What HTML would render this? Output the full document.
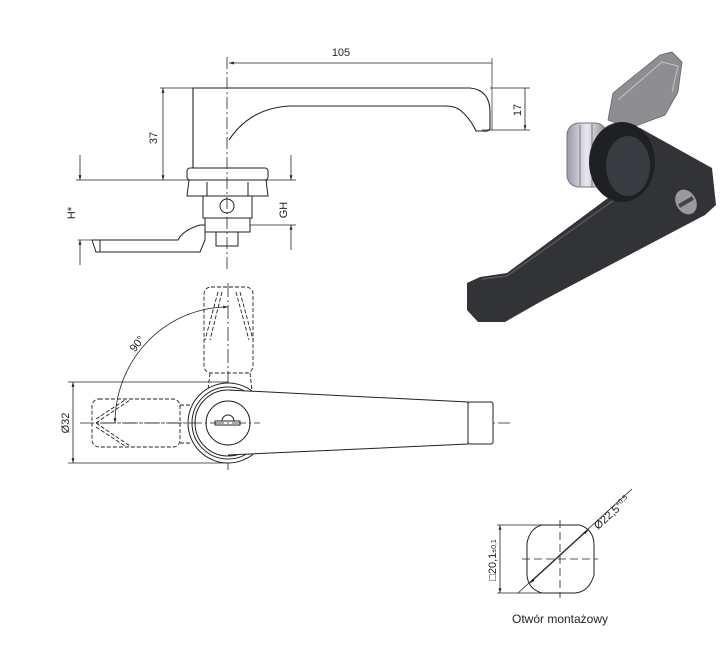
<!DOCTYPE html>
<html><head><style>
html,body{margin:0;padding:0;background:#fff;}
svg{display:block;font-family:"Liberation Sans",sans-serif;}
</style></head><body>
<svg width="721" height="662" viewBox="0 0 721 662" xmlns="http://www.w3.org/2000/svg">
<defs>
<marker id="a" viewBox="0 0 10 10" refX="10" refY="5" markerWidth="8" markerHeight="6" orient="auto-start-reverse"><path d="M0,2 L10,5 L0,8 Z" fill="#222"/></marker>
<linearGradient id="sil" x1="0" x2="1"><stop offset="0" stop-color="#9a9aa8"/><stop offset="0.5" stop-color="#e8e8f0"/><stop offset="1" stop-color="#8a8a96"/></linearGradient>
</defs>
<g stroke="#222" fill="none" stroke-width="1">
<line x1="227" y1="57" x2="227" y2="272" stroke-dasharray="12,3,2,3" stroke-width="0.8"/>
<line x1="229" y1="63" x2="492" y2="63" marker-start="url(#a)" stroke-width="0.8"/>
<line x1="492" y1="58" x2="492" y2="130" stroke-width="0.7"/>
<path d="M193,168 L193,88 L470,88 Q490,90 490,112 L490,128 Q490,132 482,131 L476,131 Q470,118 460,110 Q455,106 445,106 L290,106 Q250,108 229,140" stroke-width="1.1"/>
<path d="M193,168 L262,168" />
<line x1="490" y1="88" x2="530" y2="88" stroke-width="0.7"/>
<line x1="482" y1="130" x2="530" y2="130" stroke-width="0.7"/>
<line x1="525" y1="88" x2="525" y2="130" marker-end="url(#a)" stroke-width="0.8"/>
<line x1="160" y1="88" x2="193" y2="88" stroke-width="0.7"/>
<line x1="163" y1="88" x2="163" y2="180" marker-start="url(#a)" marker-end="url(#a)" stroke-width="0.8"/>
<line x1="76" y1="180" x2="296" y2="180" stroke-width="0.7"/>
<rect x="187" y="168" width="81" height="12" rx="3"/>
<path d="M189,180 L266,180 L268,196 L187,196 Z"/>
<line x1="207" y1="182" x2="207" y2="196"/><line x1="248" y1="182" x2="248" y2="196"/>
<rect x="203" y="196" width="49" height="22"/>
<circle cx="227" cy="206" r="7"/>
<rect x="205" y="218" width="45" height="14"/>
<rect x="216" y="232" width="22" height="14"/>
<path d="M92,240 L178,240 Q183,230 200,225 L205,225 L205,240 L200,252 L96,252 Z"/>
<line x1="100" y1="240" x2="100" y2="252"/>
<line x1="80" y1="155" x2="80" y2="180" marker-end="url(#a)" stroke-width="0.8"/>
<line x1="80" y1="265" x2="80" y2="240" marker-end="url(#a)" stroke-width="0.8"/>
<line x1="78" y1="240" x2="92" y2="240" stroke-width="0.7"/>
<line x1="291" y1="155" x2="291" y2="180" marker-end="url(#a)" stroke-width="0.8"/>
<line x1="291" y1="250" x2="291" y2="225" marker-end="url(#a)" stroke-width="0.8"/>
<line x1="250" y1="225" x2="296" y2="225" stroke-width="0.7"/>
<line x1="80" y1="423" x2="510" y2="423" stroke-dasharray="14,3,2,3" stroke-width="0.8"/>
<line x1="228" y1="283" x2="228" y2="470" stroke-dasharray="14,3,2,3" stroke-width="0.8"/>
<g stroke-dasharray="4,2" stroke-width="0.9">
<rect x="204" y="287" width="49" height="86" rx="7"/>
<rect x="92" y="399" width="88" height="48" rx="7"/>
<path d="M218,292 L205,340 M240,292 L253,340 M222,292 L210,340 M236,292 L249,340"/>
<path d="M96,423 L130,400 M96,423 L130,446 M96,419 L125,400 M96,427 L125,446"/>
<path d="M210,373 L208,390 M250,373 L252,390 M180,405 L190,405 M180,443 L190,443"/>
</g>
<circle cx="228" cy="423" r="40" fill="#fff"/>
<circle cx="228" cy="423" r="36"/>
<circle cx="228" cy="423" r="33"/>
<path d="M228,390 L468,402 L468,444 L228,455" fill="#fff"/>
<rect x="468" y="402" width="25" height="42" rx="2" fill="#fff"/>
<circle cx="228" cy="423" r="22" fill="#fff"/>
<rect x="215" y="421" width="25" height="4"/>
<path d="M222,421 A6,6 0 0 1 234,421"/>
<line x1="100" y1="423" x2="260" y2="423" stroke-dasharray="14,3,2,3" stroke-width="0.8"/>
<line x1="68" y1="382" x2="228" y2="382" stroke-width="0.7"/>
<line x1="68" y1="463" x2="228" y2="463" stroke-width="0.7"/>
<line x1="73" y1="382" x2="73" y2="463" marker-start="url(#a)" marker-end="url(#a)" stroke-width="0.8"/>
<path d="M115,423 A113,116 0 0 1 228,307" marker-start="url(#a)" marker-end="url(#a)" stroke-width="0.8"/>
<path d="M542,525 L580,525 Q594,530 594,545 L594,575 Q589,592 575,593 L542,593 Q528,589 527,575 L527,543 Q530,528 542,525 Z"/>
<line x1="560" y1="520" x2="560" y2="598" stroke-dasharray="8,4" stroke-width="0.8"/>
<line x1="522" y1="559" x2="598" y2="559" stroke-dasharray="8,4" stroke-width="0.8"/>
<line x1="497" y1="525" x2="542" y2="525" stroke-width="0.7"/>
<line x1="497" y1="593" x2="542" y2="593" stroke-width="0.7"/>
<line x1="500" y1="525" x2="500" y2="593" marker-start="url(#a)" marker-end="url(#a)" stroke-width="0.8"/>
<line x1="518" y1="593" x2="632" y2="489" stroke-width="0.8"/>
<line x1="530" y1="583" x2="588" y2="530" marker-start="url(#a)" marker-end="url(#a)" stroke-width="0.8"/>
</g>
<g fill="#222" font-size="11">
<text x="341" y="56" text-anchor="middle">105</text>
<text transform="translate(157,138) rotate(-90)" text-anchor="middle">37</text>
<text transform="translate(521,110) rotate(-90)" text-anchor="middle">17</text>
<text transform="translate(75,213) rotate(-90)" text-anchor="middle">H*</text>
<text transform="translate(287,210) rotate(-90)" text-anchor="middle">GH</text>
<text transform="translate(69,423) rotate(-90)" text-anchor="middle">Ø32</text>
<text transform="translate(140,346) rotate(-52)" text-anchor="middle">90°</text>
<text transform="translate(496,560) rotate(-90)" text-anchor="middle">□20,1<tspan font-size="7">±0,1</tspan></text>
<text transform="translate(598,530) rotate(-42)">Ø22,5<tspan font-size="7" dy="-4">+0,5</tspan></text>
<text x="560" y="623" text-anchor="middle" font-size="12">Otwór montażowy</text>
</g>
<!-- 3D render -->
<path d="M613,93 L660,55 L672,52 L682,62 L678,92 L665,115 L630,128 L608,120 Z" fill="#8e8e92" stroke="#666" stroke-width="0.8"/>
<path d="M618,100 L662,62 L678,66 L672,92" fill="none" stroke="#c4c4c8"/>
<rect x="567" y="123" width="40" height="64" rx="12" fill="url(#sil)" stroke="#777"/>
<line x1="580" y1="125" x2="580" y2="186" stroke="#777"/><line x1="592" y1="124" x2="592" y2="187" stroke="#777"/>
<path d="M640,128 L712,168 L716,205 L705,215 L540,302 L505,322 L478,322 L467,310 L467,283 L480,277 L507,273 L612,195 Z" fill="#323337"/>
<path d="M482,279 L507,276 L614,200" fill="none" stroke="#55565a" stroke-width="1.5"/>
<ellipse cx="622" cy="162" rx="33" ry="40" fill="#1f2022"/>
<ellipse cx="628" cy="166" rx="22" ry="30" fill="#3a3b40"/>
<ellipse cx="686" cy="202" rx="10" ry="13" fill="#9a9a9e" transform="rotate(-30 686 202)"/>
<rect x="678" y="200" width="16" height="4" fill="#444" transform="rotate(-30 686 202)"/>
</svg>
</body></html>
